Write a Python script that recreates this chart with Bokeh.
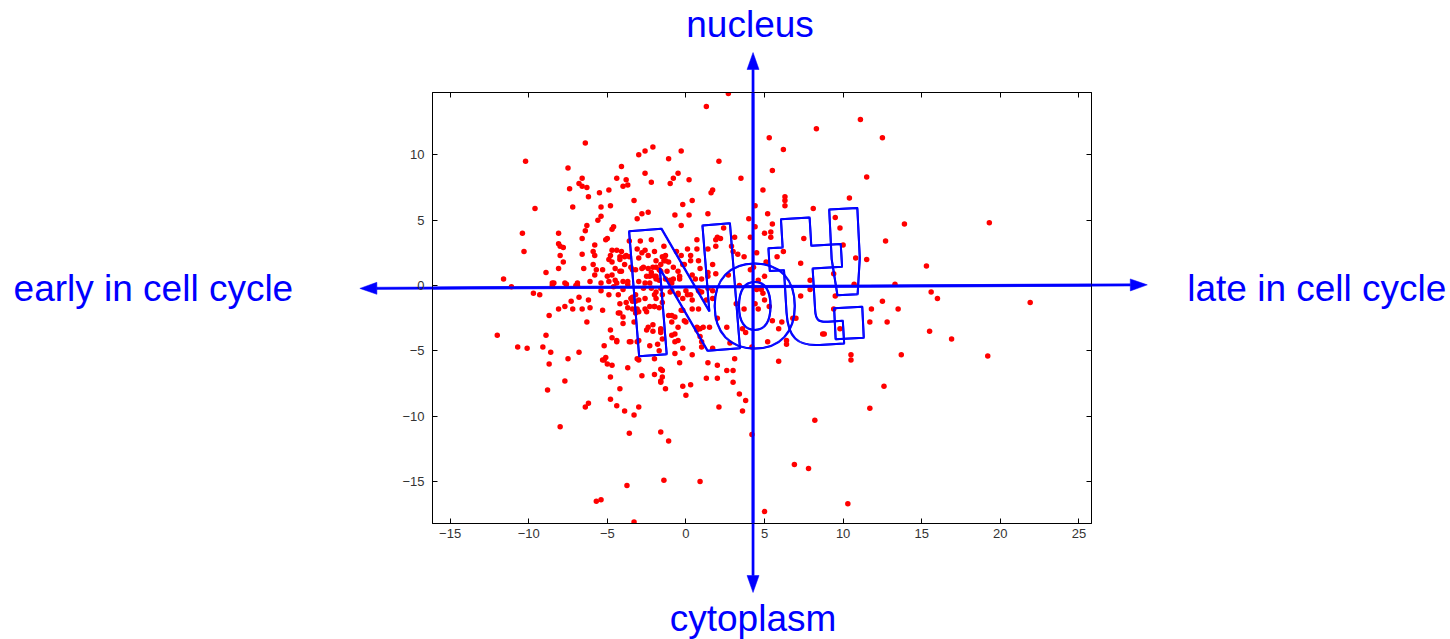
import math
from bokeh.plotting import figure
from bokeh.layouts import column
from bokeh.models import Range1d, LinearAxis, FixedTicker, Label, PolyAnnotation
from bokeh.embed import file_html
from bokeh.resources import INLINE

# ---------------- data ----------------
pts_upper_left = [
    (-6.4,10.9),(-2.1,10.6),(-2.6,10.3),(-3.0,10.0),(-7.5,9.0),(-4.1,9.1),(-2.6,8.6),(-6.6,8.2),(-4.4,8.2),(-3.8,8.1),
    (-6.8,7.8),(-6.6,7.6),(-6.3,7.5),(-7.4,7.4),(-2.2,7.9),(-5.5,7.1),(-4.9,7.3),(-4.0,7.6),(-3.7,7.7),(-6.2,6.8),
    (-9.6,5.9),(-7.2,6.0),(-5.4,6.0),(-4.8,6.1),(-3.3,6.5),(-2.8,5.5),(-2.4,5.6),(-5.4,5.3),(-5.6,5.0),(-3.1,5.1),
    (-4.6,4.5),(-4.7,4.3),(-6.3,4.6),(-6.4,4.2),(-8.1,4.0),(-6.6,3.6),(-5.0,3.6),(-5.1,3.5),(-3.6,3.4),(-2.9,3.4),
    (-2.2,3.5),(-8.1,3.2),(-8.0,3.0),(-7.8,2.9),(-5.8,3.1),(-5.9,2.6),(-5.8,2.3),(-4.7,2.7),(-4.1,2.6),(-6.6,2.4),
    (-8.0,2.3),(-4.8,2.3),(-4.9,2.0),(-4.2,2.0),(-3.9,2.2),(-3.6,2.2),(-2.8,2.5),(-3.0,2.1),(-2.4,2.3),(-2.0,2.6),
    (-1.9,1.9),(-7.8,1.8),(-6.5,1.3),(-5.9,1.6),(-4.7,1.8),(-5.3,1.2),(-5.7,1.2),(-5.8,0.8),(-5.0,0.7),(-4.7,0.8),
    (-4.1,1.1),(-4.5,1.3),(-3.5,1.4),(-3.2,1.2),(-2.8,1.3),(-2.4,1.3),(-2.1,1.4),(-2.2,1.0),(-2.0,0.7),(-1.9,0.5),
    (-2.3,0.7),(-8.1,1.3),(-8.9,1.0),(-8.4,0.2),(-8.5,0.2),(-7.7,0.2),(-7.6,0.1),(-6.9,0.2),(-6.9,0.0),(-6.1,0.3),
    (-5.4,0.2),(-4.9,0.3),(-4.4,0.2),(-4.0,0.3),(-3.7,0.1),(-3.0,0.3),(-2.6,0.2),(-2.3,0.2),(-1.7,1.2),(-1.6,1.6),
]
pts_lower_left = [
    (-9.7,-0.6),(-9.3,-0.7),(-8.5,0.0),(-7.0,0.0),(-5.4,-0.4),(-4.9,-0.7),(-4.3,-0.7),(-4.0,-0.3),(-4.6,-0.1),(-3.4,-0.9),
    (-3.2,-1.2),(-3.0,-1.1),(-3.4,-1.2),(-2.6,-1.0),(-2.0,-0.7),(-1.9,-1.0),(-7.3,-1.2),(-6.8,-0.9),(-6.2,-1.1),(-8.1,-1.8),
    (-7.7,-1.6),(-7.2,-1.8),(-6.6,-1.8),(-6.1,-1.7),(-5.3,-1.9),(-4.2,-1.4),(-3.7,-1.7),(-3.4,-1.8),(-3.0,-2.0),(-3.2,-2.1),
    (-4.2,-2.1),(-4.0,-2.4),(-2.6,-1.8),(-2.3,-1.6),(-2.0,-1.6),(-1.7,-1.7),(-8.7,-2.3),(-6.3,-2.8),(-2.4,-3.2),(-2.1,-3.5),
    (-1.6,-3.3),(-8.9,-3.8),(-9.1,-4.7),(-8.6,-5.1),(-7.5,-5.6),(-6.8,-5.1),(-4.8,-3.4),(-4.7,-4.0),(-4.4,-4.3),(-5.2,-4.6),
    (-3.5,-4.3),(-3.0,-4.2),(-2.3,-4.6),(-1.7,-5.0),(-5.2,-5.7),(-5.1,-5.5),(-5.3,-5.7),(-5.0,-6.0),(-4.7,-6.1),(-8.7,-6.0),
    (-3.0,-5.7),(-3.7,-6.3),(-2.8,-6.9),(-2.0,-6.8),(-1.6,-6.4),(-1.6,-7.3),(-4.8,-7.0),(-7.7,-7.3),(-8.8,-8.0),(-4.2,-7.9),
    (-4.8,-8.7),(-6.2,-9.0),(-6.4,-9.3),(-4.4,-9.2),(-3.9,-9.6),(-3.0,-9.3),(-3.3,-9.9),(-8.0,-10.8),(-3.6,-11.3),(-1.6,-11.2),
]
pts_upper_center = [
    (-0.3,10.3),(-1.1,9.7),(2.1,9.5),(6.2,10.4),(5.5,8.8),(-0.5,8.6),(-0.8,8.2),(-1.0,7.8),(0.2,8.1),(3.5,8.2),
    (1.7,7.3),(1.6,7.1),(4.9,7.3),(0.4,6.5),(-0.2,6.2),(6.3,6.8),(6.3,6.5),(6.3,6.1),(4.4,6.1),(1.4,5.5),
    (-0.7,5.4),(0.2,5.4),(5.2,5.5),(4.0,5.1),(5.5,4.7),(-0.3,4.6),(2.4,4.4),(4.4,4.5),(5.4,4.1),(5.4,3.7),
    (0.7,3.5),(2.0,3.7),(2.2,3.6),(1.9,3.5),(3.1,3.7),(4.1,3.7),(5.0,4.0),(-1.4,3.0),(-0.6,2.6),(0.1,2.8),
    (0.7,2.8),(1.4,2.8),(1.9,3.0),(2.9,3.0),(3.3,2.4),(3.0,2.6),(3.7,2.2),(4.5,2.5),(5.1,1.8),(5.8,2.2),
    (6.2,2.6),(-1.5,2.2),(-1.3,2.3),(-1.4,1.9),(-1.1,1.8),(-0.8,1.4),(-1.2,1.1),(-1.6,1.1),(0.3,2.3),(0.3,1.9),
    (-0.2,1.6),(0.9,1.3),(1.4,1.0),(1.7,1.6),(1.4,0.7),(1.9,0.9),(2.7,0.8),(3.4,0.0),(0.6,0.5),(1.0,0.5),
    (-0.4,0.7),(-0.8,0.5),(-1.0,0.4),(-1.7,0.4),(4.1,1.2),(5.0,0.7),(4.6,0.4),(4.3,1.4),(0.8,1.9),(-0.3,2.3),
]
pts_lower_center = [
    (-1.6,-0.2),(-0.9,-0.4),(-0.5,-0.6),(0.0,-0.4),(0.8,-0.4),(1.4,-0.2),(1.7,-0.4),(0.3,-0.7),(0.4,-1.1),(1.0,-0.5),
    (-0.2,-1.9),(0.8,-1.8),(1.3,-1.1),(1.7,-1.0),(-0.9,-2.3),(-1.6,-3.4),(-1.5,-4.1),(-0.9,-2.8),(-0.1,-2.7),(-0.7,-3.7),
    (-0.5,-4.2),(0.7,-3.4),(0.9,-3.3),(1.1,-3.2),(1.5,-3.2),(0.9,-3.9),(1.0,-4.3),(1.0,-4.7),(1.7,-4.8),(0.4,-5.3),
    (2.0,-2.5),(2.6,-3.2),(3.2,-1.4),(3.7,-1.8),(4.4,-1.4),(4.6,-1.8),(5.3,-1.6),(5.5,-2.7),(5.9,-3.3),(6.1,-2.8),
    (2.8,-4.4),(3.6,-3.3),(3.8,-3.6),(4.2,-4.7),(5.2,-4.3),(5.9,-5.8),(3.1,-5.6),(-0.4,-5.9),(1.4,-5.9),(2.0,-6.1),
    (2.6,-6.5),(3.0,-6.5),(-1.5,-6.5),(-1.5,-7.0),(-1.6,-7.4),(-1.3,-7.9),(-0.2,-7.7),(0.3,-7.6),(1.3,-7.1),(2.0,-7.1),
    (0.0,-8.4),(3.0,-7.4),(3.4,-8.3),(3.8,-8.8),(3.6,-9.6),(2.1,-9.3),(4.2,-11.4),(4.9,-0.6),(5.0,-1.1),(4.5,-0.3),
    (4.8,-0.3),(6.4,-4.2),(6.4,-4.5),
]
pts_core = [
    (-1.3,1.9),(-1.9,1.4),(-2.7,1.4),(-3.4,1.2),(-2.5,0.7),(-1.9,0.7),(-1.3,0.5),(-0.9,0.2),(-0.5,1.1),(-0.4,0.5),
    (-0.1,1.6),(0.4,0.8),(0.9,-0.5),(0.1,-0.7),(-0.2,-1.0),(-0.5,-0.7),(-1.0,-0.5),(-1.5,-0.7),(-1.9,-0.5),(-2.2,-0.2),
    (-2.7,-0.2),(-3.2,-0.7),(-3.5,-1.0),(-3.8,-1.3),(-3.1,-1.8),(-2.5,-2.0),(-2.0,-1.6),(-1.5,-1.3),(-1.1,-2.3),(-0.7,-2.4),
    (-0.3,-1.9),(0.4,-1.8),(-2.1,-3.0),(-2.5,-3.4),(-1.6,-3.6),(-0.9,-3.8),(-0.5,-3.2),(0.0,-2.8),(0.7,-3.2),(-3.6,-4.3),
    (-3.1,-4.3),(-1.8,-4.5),(-0.7,-4.3),(-0.2,-4.8),(-3.1,-5.6),(-2.0,-5.6),(-0.7,-5.2),(-4.4,2.7),(-4.2,2.2),(-3.8,2.3),
    (-3.9,1.6),(-3.1,2.8),(-2.6,2.7),(-4.2,1.1),(-3.7,0.3),(-4.5,0.4),(-4.3,-2.1),(-4.0,-2.9),(-3.3,-2.8),(-4.4,-4.2),
]
pts_right = [
    (2.7,14.7),(1.3,13.7),(5.3,11.3),(8.3,12.0),(11.1,12.7),(11.5,8.3),(10.4,6.7),(8.1,5.9),(9.5,5.2),(7.5,3.6),
    (9.8,4.4),(10.0,3.1),(10.8,2.1),(11.5,2.0),(7.3,1.7),(7.9,0.4),(9.4,0.9),(10.7,0.1),(9.5,-0.8),(7.3,-0.8),
    (7.9,-0.3),(12.5,11.3),(13.9,4.7),(19.3,4.8),(12.7,3.4),(15.3,1.5),(13.3,0.1),(15.6,-0.5),(16.0,-1.0),(12.5,-1.2),
    (21.9,-1.3),(13.5,-1.8),(12.8,-2.8),(15.5,-3.5),(16.9,-4.1),(13.7,-5.3),(19.2,-5.4),(12.6,-7.7),(6.8,-2.5),(7.0,-2.5),
    (9.4,-1.8),(8.7,-3.7),(8.8,-3.7),(9.8,-3.3),(11.7,-2.8),(11.8,-1.8),(10.5,-5.3),(10.5,-5.7),(8.2,-10.3),(11.7,-9.4),
    (-1.4,-14.9),(0.9,-15.0),(6.9,-13.7),(7.8,-14.0),(10.3,-16.7),(5.0,-17.3),(-1.1,-11.9),
]
pts_far_left = [
    (-10.2,9.5),(-10.4,4.0),(-10.3,2.6),(-11.6,0.5),(-11.1,-0.1),(-12.0,-3.8),(-10.7,-4.7),(-10.1,-4.8),
    (-3.75,-15.3),(-5.7,-16.5),(-5.4,-16.4),(-3.3,-18.1),
]

x_ticks = [-15, -10, -5, 0, 5, 10, 15, 20, 25]
y_ticks = [-15, -10, -5, 0, 5, 10]

label_top = "nucleus"
label_bottom = "cytoplasm"
label_left = "early in cell cycle"
label_right = "late in cell cycle"
stamp_letters = ["N", "o", "t", "!"]

all_pts = (pts_upper_left + pts_lower_left + pts_upper_center + pts_lower_center
           + pts_core + pts_right + pts_far_left)
xs = [pt[0] for pt in all_pts]
ys = [pt[1] for pt in all_pts]

# ---------------- geometry ----------------
W, H = 1450, 639
BL, BR, BT, BB = 432, 359, 92, 116     # borders around the scatter frame
X0, X1 = -16.12, 25.8
Y0, Y1 = -18.21, 14.77
FW, FH = W - BL - BR, H - BT - BB
sx = FW / (X1 - X0)
sy = FH / (Y1 - Y0)
blue = "#0000ff"

def arrow_polys(xa, ya, xb, yb, shaft=2.2, head_len=17.0, head_half=6.0):
    ax_, ay_ = xa * sx, ya * sy
    bx_, by_ = xb * sx, yb * sy
    L = math.hypot(bx_ - ax_, by_ - ay_)
    ux, uy = (bx_ - ax_) / L, (by_ - ay_) / L
    nx, ny = -uy, ux
    pa = (ax_ + ux * head_len, ay_ + uy * head_len)
    pb = (bx_ - ux * head_len, by_ - uy * head_len)
    h = shaft / 2
    polys = [
        [(pa[0] + nx * h, pa[1] + ny * h), (pb[0] + nx * h, pb[1] + ny * h),
         (pb[0] - nx * h, pb[1] - ny * h), (pa[0] - nx * h, pa[1] - ny * h)],
        [(ax_, ay_), (pa[0] + nx * head_half, pa[1] + ny * head_half),
         (pa[0] - nx * head_half, pa[1] - ny * head_half)],
        [(bx_, by_), (pb[0] + nx * head_half, pb[1] + ny * head_half),
         (pb[0] - nx * head_half, pb[1] - ny * head_half)],
    ]
    return [([q[0] / sx for q in poly], [q[1] / sy for q in poly]) for poly in polys]

arrow_h = (-20.74, -0.22, 29.35, 0.05)     # early <-> late in cell cycle
arrow_v = (4.27, 17.83, 4.27, -23.49)      # nucleus <-> cytoplasm

def draw_arrows(fig):
    for arr in (arrow_h, arrow_v):
        for pxs, pys in arrow_polys(*arr):
            fig.add_layout(PolyAnnotation(xs=pxs, ys=pys, fill_color=blue, fill_alpha=1.0,
                                          line_color=blue, line_alpha=1.0, line_width=0.5))

# ---------------- background canvas: arrows + direction labels ----------------
bg = figure(width=W, height=H,
            x_range=Range1d(X0 - BL / sx, X1 + BR / sx),
            y_range=Range1d(Y0 - BB / sy, Y1 + BT / sy),
            output_backend="svg", toolbar_location=None,
            x_axis_location=None, y_axis_location=None,
            min_border=0, min_border_left=0, min_border_right=0,
            min_border_top=0, min_border_bottom=0, frame_align=False)
bg.outline_line_color = None
bg.xgrid.visible = False
bg.ygrid.visible = False
bg.background_fill_color = "white"
bg.border_fill_color = "white"

lab_font = "Liberation Sans"
def add_label(x, y, txt, align):
    bg.add_layout(Label(x=x, y=y, text=txt, text_font=lab_font, text_font_size="37px",
                        text_color=blue, text_align=align, text_baseline="alphabetic"))

add_label(4.08, 20.0, label_top, "center")
add_label(4.27, -25.5, label_bottom, "center")
add_label(-42.77, -0.19, label_left, "left")
add_label(31.89, -0.19, label_right, "left")
draw_arrows(bg)

# ---------------- scatter plot (overlaid, transparent) ----------------
p = figure(width=W, height=H,
           x_range=Range1d(X0, X1), y_range=Range1d(Y0, Y1),
           output_backend="svg", toolbar_location=None,
           min_border_left=BL, min_border_right=BR,
           min_border_top=BT, min_border_bottom=BB, frame_align=False)
p.background_fill_color = None
p.border_fill_color = None
p.outline_line_color = "black"
p.xgrid.visible = False
p.ygrid.visible = False
p.margin = (-H, 0, 0, 0)

p.add_layout(LinearAxis(), "above")
p.add_layout(LinearAxis(), "right")

tick_font = "Liberation Sans"
for ax in p.xaxis:
    ax.ticker = FixedTicker(ticks=x_ticks)
for ax in p.yaxis:
    ax.ticker = FixedTicker(ticks=y_ticks)
for ax in list(p.xaxis) + list(p.yaxis):
    ax.major_tick_in = 5
    ax.major_tick_out = 0
    ax.minor_tick_line_color = None
    ax.axis_line_color = "black"
    ax.major_tick_line_color = "black"
    ax.major_label_text_font = tick_font
    ax.major_label_text_font_size = "13px"
    ax.major_label_text_color = "#333333"
p.xaxis[0].major_label_standoff = 6
p.yaxis[0].major_label_standoff = 8
p.above[0].major_label_text_color = None
p.right[0].major_label_text_color = None

p.scatter(xs, ys, marker="circle", size=5.5, fill_color="red", line_color=None)
draw_arrows(p)

# ---------------- outlined "Not!" stamp ----------------
stamp_x = [-0.1, 4.35, 7.7, 10.19]
stamp_y = [-0.61, -0.77, 0.2, 0.61]
stamp_angle = [0.08, 0.0, 0.06, 0.05]
stamp_size = ["172px", "148px", "182px", "178px"]
stamp_font = "'Liberation Sans Narrow', 'DejaVu Sans Condensed', sans-serif"
for ch, sxv, syv, sa, fs in zip(stamp_letters, stamp_x, stamp_y, stamp_angle, stamp_size):
    for ox, oy in [(0, 0), (1, 0), (0, 1), (1, 1)]:
        p.add_layout(Label(x=sxv, y=syv, text=ch, angle=sa, x_offset=ox, y_offset=oy,
                           text_font=stamp_font, text_font_size=fs, text_font_style="bold",
                           text_color=(0, 0, 0, 0.0), text_outline_color=blue,
                           text_align="center", text_baseline="alphabetic"))

layout = column(bg, p, spacing=0)
open("out.html", "w").write(file_html(layout, INLINE))
